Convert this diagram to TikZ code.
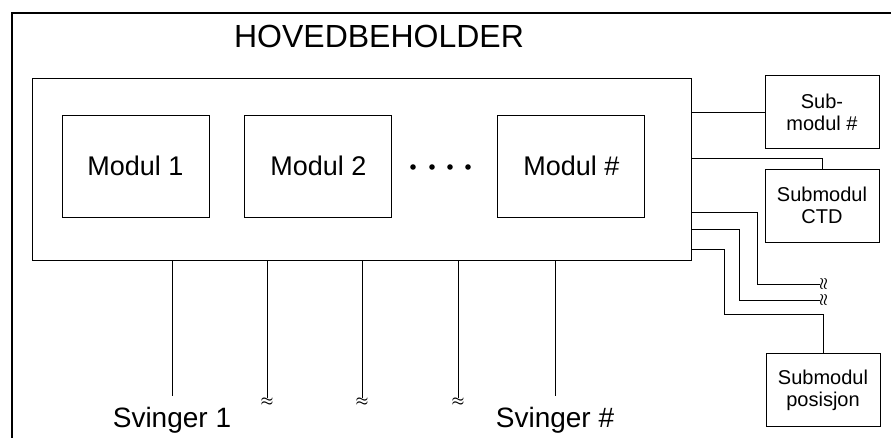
\documentclass[tikz,border=0pt]{standalone}
\usepackage{fontspec}
\setmainfont{Liberation Sans}
\usepackage{tikz}
\usetikzlibrary{positioning}

\begin{document}
\begin{tikzpicture}[
			x=1pt, y=-1pt,
			line width=0.9pt,
			every node/.style={align=center},
			modul/.style={rectangle, draw, minimum width=147pt, minimum height=102pt, font=\fontsize{27}{32}\selectfont},
			submodul/.style={rectangle, draw, minimum width=114pt, minimum height=73pt, font=\fontsize{20}{22}\selectfont},
			svinger/.style={anchor=base, inner sep=0pt, font=\fontsize{28}{32}\selectfont},
			brudd/.style={inner sep=0pt, font=\fontsize{14}{14}\selectfont\boldmath},
			ramme/.style={line width=2pt}
			]
			
			\useasboundingbox (0,0) rectangle (891,437);
			\draw[ramme] (12,445) -- (12,13) -- (900,13);
			
			\node[font=\fontsize{32}{38}\selectfont] (title) at (379,36) {HOVEDBEHOLDER};
			\node[draw, minimum width=659pt, minimum height=182pt] (hoved) at (361.5,169) {};
			
			\node[modul] (m1) at (135.5,166) {Modul 1};
			\node[modul, right=35pt of m1] (m2) {Modul 2};
			\node[modul, right=105pt of m2] (mn) {Modul \#};
			\foreach \x in {413,432,450,468} \fill (\x,167) circle (2.8);
			
			\node[submodul] (sub) at (822,112) {Sub-\\modul \#};
			\node[submodul] (ctd) at (822,205.5) {Submodul\\CTD};
			\node[submodul] (pos) at (823,390) {Submodul\\posisjon};
			
			\node[brudd, rotate=90] (w1) at (824,284) {$\approx$};
			\node[brudd, rotate=90] (w2) at (824,300) {$\approx$};
			
			\draw (hoved.east |- sub.west) -- (sub.west);
			\draw ([yshift=11pt]hoved.east) -| (ctd.north);
			\draw ([yshift=-43pt]hoved.east) -| (757,284) -- (w1);
			\draw ([yshift=-60pt]hoved.east) -| (739,300) -- (w2);
			\draw ([yshift=-80pt]hoved.east) -| (724,314) -| (pos.north);
			
			\node[svinger] (sv1) at (172,427) {Svinger 1};
			\node[svinger] (svn) at (555,427) {Svinger \#};
			\node[brudd] (w3) at (267,402) {$\approx$};
			\node[brudd] (w4) at (362,402) {$\approx$};
			\node[brudd] (w5) at (458,402) {$\approx$};
			
			\draw (hoved.south -| sv1) -- ([yshift=10pt]sv1.north);
			\draw (hoved.south -| svn) -- ([yshift=10pt]svn.north);
			\foreach \w in {w3,w4,w5} \draw (hoved.south -| \w) -- (\w.north);
		\end{tikzpicture}
\end{document}
